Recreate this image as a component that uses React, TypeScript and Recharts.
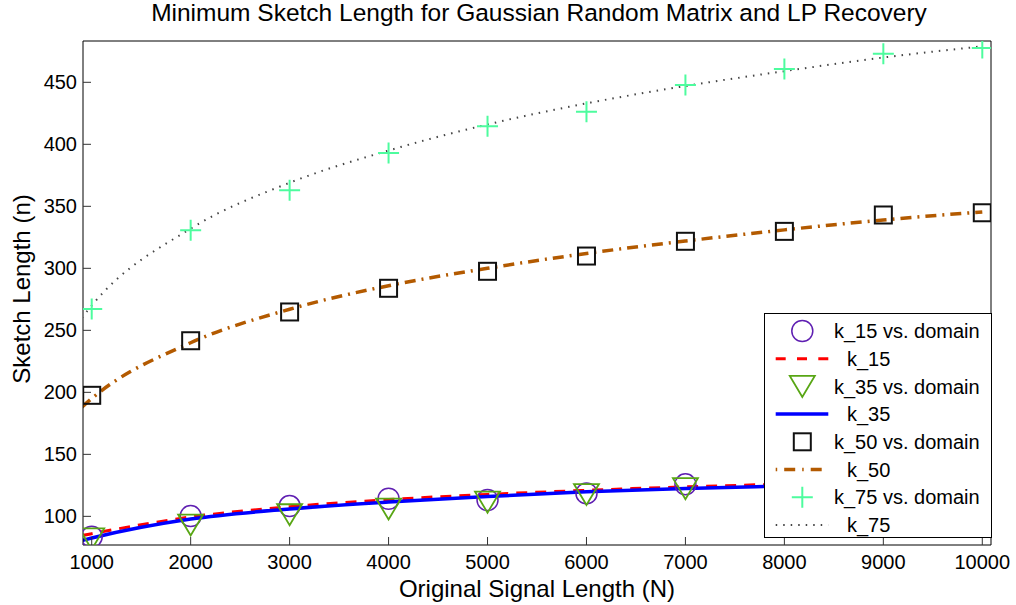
import { ComposedChart, Line, Scatter, XAxis, YAxis, Legend } from "recharts";

const signalLength = [1000, 2000, 3000, 4000, 5000, 6000, 7000, 8000, 9000, 10000];
const fitLength = [900, 1000, 2000, 3000, 4000, 5000, 6000, 7000, 8000, 9000, 10000];

const k15Domain = [83.5, 100.2, 108.3, 114.2, 113.1, 118.5, 125.8, 125.9, 129, 133];
const k15Fit = [84.5, 86, 99.5, 107.8, 113.5, 117.7, 121, 123.8, 126, 128, 130];
const k35Domain = [81.8, 93, 101.3, 105.9, 111.4, 117.6, 122.3, 121.9, 126, 130.5];
const k35Fit = [80.5, 82.5, 97.8, 105.9, 111.5, 116, 119.8, 122.5, 124.5, 126.5, 128.5];
const k50Domain = [197.6, 241.6, 264.8, 283.9, 297.6, 309.9, 321.8, 329.8, 343, 344.8];
const k50Fit = [188, 195, 240, 267, 286, 300, 312, 322, 331, 339, 345.5];
const k75Domain = [267.2, 330.6, 363, 393, 414.5, 426.3, 447.8, 460.7, 473.1, 477.7];
const k75Fit = [260, 270, 332, 369, 395, 416, 433, 447, 459, 470, 479];

const xTicks = [1000, 2000, 3000, 4000, 5000, 6000, 7000, 8000, 9000, 10000];
const yTicks = [100, 150, 200, 250, 300, 350, 400, 450];

const xDomain = [912, 10088];
const yDomain = [76.9, 483.3];

const FONT = '"Liberation Sans", Arial, Helvetica, sans-serif';
const PURPLE = "#5f1fb2";
const GREEN = "#58a614";
const MINT = "#4dfc9e";
const BROWN = "#b35a00";
const DOTS = "#444444";

const toPoints = (xs: number[], ys: number[]) => xs.map((N, i) => ({ N, v: ys[i] }));

const CircleMark = ({ cx, cy }: any) => (
  <circle cx={cx} cy={cy} r={10.5} fill="none" stroke={PURPLE} strokeWidth={1.5} />
);
const TriangleMark = ({ cx, cy }: any) => (
  <path
    d={`M${cx - 12.5},${cy - 10.5}L${cx + 12.5},${cy - 10.5}L${cx},${cy + 10.5}Z`}
    fill="none"
    stroke={GREEN}
    strokeWidth={1.8}
    strokeLinejoin="miter"
  />
);
const SquareMark = ({ cx, cy }: any) => (
  <rect x={cx - 8.5} y={cy - 8.5} width={17} height={17} fill="none" stroke="#111" strokeWidth={2} />
);
const PlusMark = ({ cx, cy }: any) => (
  <path
    d={`M${cx - 10.5},${cy}L${cx + 10.5},${cy}M${cx},${cy - 10.5}L${cx},${cy + 10.5}`}
    stroke={MINT}
    strokeWidth={2}
  />
);

const legendItems = [
  { label: "k_15 vs. domain", kind: "circle" },
  { label: "k_15", kind: "red" },
  { label: "k_35 vs. domain", kind: "triangle" },
  { label: "k_35", kind: "blue" },
  { label: "k_50 vs. domain", kind: "square" },
  { label: "k_50", kind: "dashdot" },
  { label: "k_75 vs. domain", kind: "plus" },
  { label: "k_75", kind: "dotted" },
];

function LegendBox() {
  return (
    <svg width={228} height={225} style={{ display: "block", background: "#fff", border: "1px solid #000", boxSizing: "border-box" }}>
      {legendItems.map((item, i) => {
        const y = 17 + i * 27.7;
        const cx = 37.3;
        let icon: any = null;
        if (item.kind === "circle") icon = <CircleMark cx={cx} cy={y} />;
        if (item.kind === "triangle") icon = <TriangleMark cx={cx} cy={y} />;
        if (item.kind === "square") icon = <SquareMark cx={cx} cy={y} />;
        if (item.kind === "plus") icon = <PlusMark cx={cx} cy={y} />;
        if (item.kind === "red")
          icon = <line x1={10.7} x2={63.3} y1={y} y2={y} stroke="#ff0000" strokeWidth={3} strokeDasharray="10 11.3" />;
        if (item.kind === "blue")
          icon = <line x1={10.7} x2={63.3} y1={y} y2={y} stroke="#0000ff" strokeWidth={3.5} />;
        if (item.kind === "dashdot")
          icon = <line x1={10.7} x2={63.3} y1={y} y2={y} stroke={BROWN} strokeWidth={3.5} strokeDasharray="1.5 7 11 7" />;
        if (item.kind === "dotted")
          icon = <line x1={10.7} x2={63.3} y1={y} y2={y} stroke={DOTS} strokeWidth={2} strokeDasharray="1.5 6" />;
        const isLine = ["red", "blue", "dashdot", "dotted"].includes(item.kind);
        return (
          <g key={item.label}>
            {icon}
            <text x={isLine ? 82 : 69} y={y} dy="0.36em" fontSize={20} fontFamily={FONT} fill="#000">
              {item.label}
            </text>
          </g>
        );
      })}
    </svg>
  );
}

const tickStyle = { fontSize: 20, fontFamily: FONT, fill: "#000" };

export default function App() {
  return (
    <div style={{ position: "absolute", left: 0, top: 0, width: 1016, height: 605, background: "#fff", fontFamily: FONT }}>
      <div style={{ position: "absolute", left: 0, width: 1078, top: 1, textAlign: "center", fontSize: 24.5, lineHeight: "24px", whiteSpace: "nowrap" }}>
        Minimum Sketch Length for Gaussian Random Matrix and LP Recovery
      </div>
      <div style={{ position: "absolute", left: 0, width: 1074, top: 577, textAlign: "center", fontSize: 24, lineHeight: "24px", whiteSpace: "nowrap" }}>
        Original Signal Length (N)
      </div>
      <div
        style={{
          position: "absolute",
          left: 22,
          top: 289,
          transform: "translate(-50%, -50%) rotate(-90deg)",
          fontSize: 24,
          lineHeight: "24px",
          whiteSpace: "nowrap",
        }}
      >
        Sketch Length (n)
      </div>
      <ComposedChart width={1016} height={605} margin={{ top: 40, right: 24, bottom: 20, left: 23 }}>
        <XAxis
          xAxisId="main"
          dataKey="N"
          type="number"
          domain={xDomain}
          ticks={xTicks}
          allowDataOverflow
          height={40}
          tickSize={-8}
          tickMargin={18}
          tick={tickStyle}
          axisLine={{ stroke: "#000", strokeWidth: 1 }}
          tickLine={{ stroke: "#333" }}
        />
        <XAxis
          xAxisId="top"
          orientation="top"
          type="number"
          domain={xDomain}
          ticks={xTicks}
          allowDataOverflow
          height={1}
          tickSize={-8}
          tick={false}
          axisLine={{ stroke: "#000", strokeWidth: 1 }}
          tickLine={{ stroke: "#333" }}
        />
        <YAxis
          yAxisId="main"
          type="number"
          domain={yDomain}
          ticks={yTicks}
          allowDataOverflow
          width={60}
          tickSize={-8}
          tickMargin={14}
          tick={tickStyle}
          axisLine={{ stroke: "#000", strokeWidth: 1 }}
          tickLine={{ stroke: "#333" }}
        />
        <YAxis
          yAxisId="right"
          orientation="right"
          type="number"
          domain={yDomain}
          ticks={yTicks}
          allowDataOverflow
          width={1}
          tickSize={-8}
          tick={false}
          axisLine={{ stroke: "#000", strokeWidth: 1 }}
          tickLine={{ stroke: "#333" }}
        />

        <Scatter xAxisId="main" yAxisId="main" data={toPoints(signalLength, k15Domain)} dataKey="v" shape={CircleMark} isAnimationActive={false} />
        <Line xAxisId="main" yAxisId="main" data={toPoints(fitLength, k15Fit)} dataKey="v" type="monotone" stroke="#ff0000" strokeWidth={3} strokeDasharray="11 8" dot={false} activeDot={false} isAnimationActive={false} />
        <Scatter xAxisId="main" yAxisId="main" data={toPoints(signalLength, k35Domain)} dataKey="v" shape={TriangleMark} isAnimationActive={false} />
        <Line xAxisId="main" yAxisId="main" data={toPoints(fitLength, k35Fit)} dataKey="v" type="monotone" stroke="#0000ff" strokeWidth={3.5} dot={false} activeDot={false} isAnimationActive={false} />
        <Scatter xAxisId="main" yAxisId="main" data={toPoints(signalLength, k50Domain)} dataKey="v" shape={SquareMark} isAnimationActive={false} />
        <Line xAxisId="main" yAxisId="main" data={toPoints(fitLength, k50Fit)} dataKey="v" type="monotone" stroke={BROWN} strokeWidth={3.5} strokeDasharray="11 6 2 6" dot={false} activeDot={false} isAnimationActive={false} />
        <Scatter xAxisId="main" yAxisId="main" data={toPoints(signalLength, k75Domain)} dataKey="v" shape={PlusMark} isAnimationActive={false} />
        <Line xAxisId="main" yAxisId="main" data={toPoints(fitLength, k75Fit)} dataKey="v" type="monotone" stroke={DOTS} strokeWidth={2} strokeDasharray="1.5 6" dot={false} activeDot={false} isAnimationActive={false} />

        <Legend
          layout="vertical"
          align="center"
          verticalAlign="middle"
          content={() => <LegendBox />}
          wrapperStyle={{ position: "absolute", left: 764, top: 313, width: 228, height: 225, margin: 0 }}
        />
      </ComposedChart>
    </div>
  );
}
